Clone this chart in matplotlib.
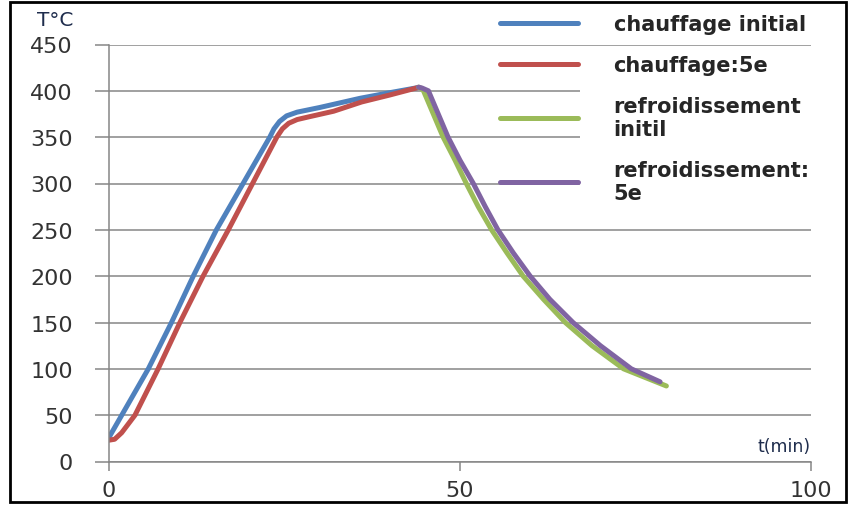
import matplotlib.pyplot as plt
from matplotlib.patches import Rectangle

# heating curves (t in min, T in degC)
t_chauf_init = [0, 5.6, 8.9, 12.0, 15.3, 22.9, 23.5, 24.3, 25.3, 26.8, 30, 35.8, 40, 44]
T_chauf_init = [26, 100, 150, 200, 250, 350, 359, 367, 373, 377, 382, 392, 398, 403.5]

t_chauf_5e = [0, 0.8, 1.8, 2.7, 3.7, 7.0, 10.1, 13.4, 17.0, 23.9, 24.7, 25.6, 26.8, 28.5, 32, 36, 40, 44]
T_chauf_5e = [23, 24, 31, 40, 50, 100, 150, 200, 250, 350, 359, 365, 369, 372, 378, 388, 395.5, 403.5]

# cooling curves
t_refr_init = [44.1, 44.4, 44.8, 46.2, 47.6, 49.3, 50.9, 52.6, 54.5, 56.7, 59.0, 61.9, 65.0, 68.8, 73.3, 79.4]
T_refr_init = [404, 403, 400, 375, 350, 325, 300, 275, 250, 225, 200, 175, 150, 125, 100, 81.5]

t_refr_5e = [44.1, 44.6, 45.5, 46.9, 48.3, 50.0, 51.9, 53.6, 55.4, 57.6, 60.0, 62.8, 66.1, 70.0, 74.4, 78.5]
T_refr_5e = [404, 403, 400, 375, 350, 325, 300, 275, 250, 225, 200, 175, 150, 125, 100, 86]

labels = ['chauffage initial', 'chauffage:5e', 'refroidissement\ninitil', 'refroidissement:\n5e']
colors = ['#4F81BD', '#C0504D', '#9BBB59', '#8064A2']

grey = '#868686'
W, H = 850, 506

fig = plt.figure(figsize=(8.5, 5.06), dpi=100)
ax = fig.add_axes([109 / W, 1 - 462.5 / H, 702 / W, 417 / H])

series = [(t_chauf_init, T_chauf_init), (t_chauf_5e, T_chauf_5e),
          (t_refr_init, T_refr_init), (t_refr_5e, T_refr_5e)]
handles = []
for (t, T), c in zip(series, colors):
  ln, = ax.plot(t, T, color=c, lw=3.6, solid_capstyle='round', solid_joinstyle='round', zorder=2)
  handles.append(ln)

ax.set_xlim(0, 100)
ax.set_ylim(0, 450)
ax.set_xticks([0, 50, 100])
ax.set_yticks(range(0, 451, 50))
ax.set_axisbelow(True)
ax.grid(axis='y', color=grey, lw=1.1)
for s in ['top', 'right']:
  ax.spines[s].set_visible(False)
for s in ['left', 'bottom']:
  ax.spines[s].set_color(grey)
  ax.spines[s].set_linewidth(1.1)
ax.tick_params(axis='y', direction='out', length=10, width=1.1, color=grey, pad=16, labelsize=16, labelcolor='#333333')
ax.tick_params(axis='x', direction='out', length=6.5, width=1.1, color=grey, pad=7, labelsize=16, labelcolor='#333333')

# legend covers the gridlines in the upper right corner
ax.add_patch(Rectangle((580 / W, 1 - 210 / H), 0.3, 0.3, transform=fig.transFigure,
                       facecolor='white', edgecolor='none', zorder=1, clip_on=False))
ax.legend(handles, labels, loc='upper left', bbox_to_anchor=(500 / W, 1 - 15 / H),
          bbox_transform=fig.transFigure, frameon=False, borderpad=0, borderaxespad=0,
          handlelength=3.75, handletextpad=1.7, labelspacing=1.0,
          prop={'size': 15, 'weight': 'bold'}, labelcolor='#262626')

fig.text(37 / W, 1 - 20 / H, 'T°C', fontsize=14.5, color='#1f2d4d', va='center', ha='left')
fig.text(811 / W, 1 - 447 / H, 't(min)', fontsize=12.5, color='#1f2d4d', va='center', ha='right')

# frame around the picture
fig.patches.append(Rectangle((10 / W, 3 / H), 836 / W, 500 / H, transform=fig.transFigure,
                             fill=False, edgecolor='black', lw=2))

fig.savefig('out.png', dpi=100)
